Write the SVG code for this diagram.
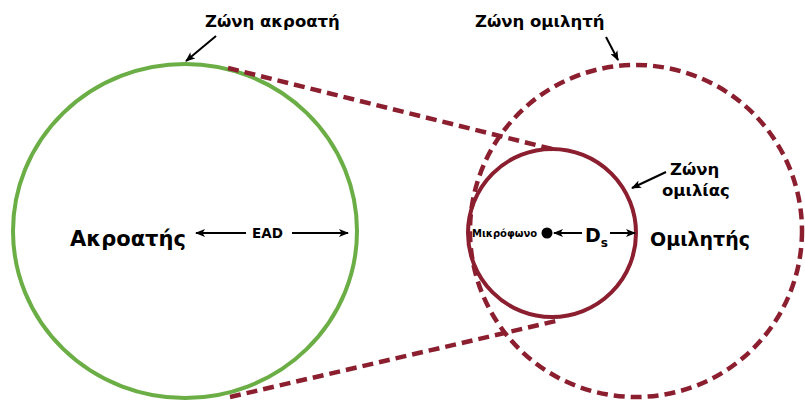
<svg xmlns="http://www.w3.org/2000/svg" width="805" height="403" viewBox="0 0 805 403">
  <defs>
    <marker id="head" markerWidth="10" markerHeight="8" refX="9" refY="4" orient="auto" markerUnits="userSpaceOnUse">
      <path d="M0,0 L10,4 L0,8 L2.5,4 Z" fill="#000"/>
    </marker>
  </defs>
  <style>
    .lbl { font-family: "DejaVu Sans", Verdana, sans-serif; font-weight: bold; fill: #000; }
    .big { font-size: 19px; }
    .mid { font-size: 16.5px; }
    .sm { font-size: 13.5px; }
    .xs { font-size: 10px; }
    .ptr { stroke: #000; stroke-width: 2; fill: none; marker-end: url(#head); }
    .zone-listener { fill: none; stroke: #6aae45; stroke-width: 4; }
    .zone-speech { fill: none; stroke: #8b1f2f; stroke-width: 4; }
    .dashed { fill: none; stroke: #8b1f2f; stroke-width: 4.5; stroke-dasharray: 11 6; }
  </style>

  <!-- listener zone -->
  <g id="listener-zone">
    <ellipse class="zone-listener" cx="185" cy="231" rx="172" ry="167"/>
  </g>

  <!-- speaker zone -->
  <g id="speaker-zone">
    <circle class="dashed" cx="636" cy="231" r="166"/>
  </g>

  <!-- speech zone -->
  <g id="speech-zone">
    <circle class="zone-speech" cx="552" cy="233" r="84"/>
  </g>

  <!-- connectors -->
  <g id="connectors">
    <line class="dashed" x1="228" y1="68" x2="556" y2="150"/>
    <line class="dashed" x1="230" y1="397" x2="556" y2="321"/>
    <line class="ptr" x1="216" y1="36" x2="186" y2="61"/>
    <line class="ptr" x1="606" y1="37" x2="618" y2="60"/>
    <line class="ptr" x1="666" y1="172" x2="632" y2="188"/>
    <!-- EAD double arrow -->
    <line class="ptr" x1="246" y1="233" x2="196" y2="233"/>
    <line class="ptr" x1="292" y1="233" x2="348" y2="233"/>
    <!-- Ds double arrow -->
    <line class="ptr" x1="582" y1="233" x2="554" y2="233"/>
    <line class="ptr" x1="610" y1="233" x2="635" y2="233"/>
  </g>

  <g id="label-listener-zone"><text class="lbl mid" x="205" y="27">Ζώνη ακροατή</text></g>
  <g id="label-speaker-zone"><text class="lbl mid" x="475" y="27">Ζώνη ομιλητή</text></g>
  <g id="label-speech-zone">
    <text class="lbl mid" x="670" y="175">Ζώνη</text>
    <text class="lbl mid" font-size="17" x="662" y="196">ομιλίας</text>
  </g>
  <g id="listener"><text class="lbl" font-size="21" x="70" y="246">Ακροατής</text></g>
  <g id="ead"><text class="lbl sm" x="252" y="238">EAD</text></g>
  <g id="microphone">
    <text class="lbl xs" x="472" y="237">Μικρόφωνο</text>
    <circle cx="547" cy="233" r="5.5" fill="#000"/>
  </g>
  <g id="ds"><text class="lbl big" x="585" y="242">D<tspan font-size="12" dy="5">s</tspan></text></g>
  <g id="speaker"><text class="lbl big" x="650" y="246">Ομιλητής</text></g>
</svg>
